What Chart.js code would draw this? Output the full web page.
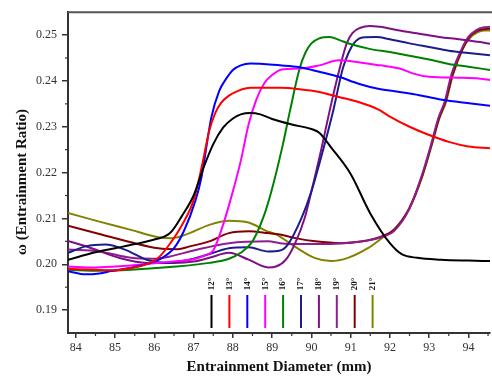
<!DOCTYPE html>
<html>
<head>
<meta charset="utf-8">
<script src="https://cdn.jsdelivr.net/npm/chart.js@4.4.1/dist/chart.umd.min.js"></script>
<style>
  html, body { margin: 0; padding: 0; background: #fff; }
  #wrap { width: 492px; height: 376px; }
</style>
</head>
<body>
<div id="wrap"><canvas id="c" width="492" height="376"></canvas></div>
<script>
// ── Daten: [Durchmesser mm, ω] je Winkel ──
const X_TICKS = [84, 85, 86, 87, 88, 89, 90, 91, 92, 93, 94];
const Y_TICKS = [0.19, 0.20, 0.21, 0.22, 0.23, 0.24, 0.25];
const LABELS = ["12°", "13°", "14°", "15°", "16°", "17°", "18°", "19°", "20°", "21°"];

const deg12 = [[83.8,0.2010],[84.5,0.2026],[85.0,0.2035],[85.5,0.2044],[86.0,0.2054],[86.4,0.2068],[86.7,0.2105],[87.0,0.2150],[87.25,0.2210],[87.5,0.2262],[87.75,0.2298],[88.0,0.2318],[88.2,0.2327],[88.45,0.2330],[88.7,0.2327],[89.0,0.2317],[89.5,0.2305],[90.0,0.2295],[90.2,0.2287],[90.5,0.2255],[91.0,0.2197],[91.5,0.2111],[92.0,0.2046],[92.3,0.2022],[92.7,0.2014],[93.3,0.2010],[94.0,0.2008],[94.55,0.2007]];
const deg13 = [[83.8,0.1990],[84.5,0.1988],[85.0,0.1987],[85.4,0.1992],[85.7,0.1997],[86.1,0.2014],[86.4,0.2045],[86.7,0.2085],[87.0,0.2140],[87.2,0.2210],[87.4,0.2292],[87.55,0.2330],[87.7,0.2352],[87.9,0.2368],[88.15,0.2379],[88.45,0.2385],[89.2,0.2385],[89.7,0.2382],[90.2,0.2376],[90.7,0.2365],[91.2,0.2354],[91.7,0.2338],[92.0,0.2322],[92.5,0.2300],[93.0,0.2282],[93.5,0.2267],[94.0,0.2257],[94.55,0.2253]];
const deg14 = [[83.8,0.1985],[84.25,0.1978],[84.6,0.1980],[84.9,0.1985],[85.6,0.1996],[86.2,0.2014],[86.5,0.2035],[86.75,0.2072],[87.05,0.2140],[87.2,0.2190],[87.45,0.2320],[87.65,0.2378],[87.83,0.2405],[88.0,0.2424],[88.2,0.2434],[88.45,0.2438],[89.2,0.2434],[89.7,0.2430],[90.2,0.2420],[90.7,0.2409],[91.2,0.2394],[91.7,0.2383],[92.25,0.2376],[92.75,0.2369],[93.25,0.2360],[93.75,0.2354],[94.55,0.2346]];
const deg15 = [[83.8,0.1995],[84.5,0.1993],[85.2,0.1996],[86.0,0.2002],[86.6,0.2007],[87.0,0.2011],[87.3,0.2020],[87.5,0.2030],[87.75,0.2086],[88.0,0.2159],[88.2,0.2225],[88.4,0.2305],[88.6,0.2360],[88.8,0.2395],[89.0,0.2413],[89.25,0.2425],[89.7,0.2427],[90.2,0.2434],[90.7,0.2445],[91.2,0.2441],[91.75,0.2434],[92.25,0.2427],[92.6,0.2416],[93.0,0.2409],[93.75,0.2407],[94.3,0.2405],[94.55,0.2402]];
const deg16 = [[83.8,0.1988],[84.6,0.1986],[85.4,0.1988],[86.4,0.1994],[87.4,0.2003],[87.9,0.2012],[88.2,0.2025],[88.5,0.2050],[88.77,0.2101],[88.98,0.2159],[89.27,0.2260],[89.45,0.2333],[89.7,0.2427],[89.85,0.2462],[90.0,0.2482],[90.2,0.2493],[90.46,0.2496],[90.72,0.2489],[90.97,0.2481],[91.48,0.2470],[92.0,0.2463],[92.5,0.2455],[93.0,0.2447],[93.5,0.2437],[94.0,0.2431],[94.55,0.2424]];
const deg17 = [[83.8,0.2025],[84.25,0.2039],[84.75,0.2043],[85.25,0.2032],[85.8,0.2010],[86.3,0.2003],[87.0,0.2012],[87.5,0.2025],[87.9,0.2035],[88.4,0.2037],[88.9,0.2028],[89.2,0.2030],[89.4,0.2043],[89.75,0.2101],[90.0,0.2159],[90.3,0.2250],[90.55,0.2333],[90.8,0.2427],[90.95,0.2462],[91.1,0.2484],[91.3,0.2495],[91.65,0.2496],[92.0,0.2491],[92.5,0.2482],[93.0,0.2474],[93.5,0.2466],[94.0,0.2461],[94.55,0.2456]];
const deg18 = [[83.8,0.2051],[84.4,0.2035],[85.1,0.2014],[85.8,0.2003],[86.5,0.2003],[87.0,0.2006],[87.4,0.2014],[87.9,0.2025],[88.4,0.2010],[88.9,0.1993],[89.1,0.1995],[89.35,0.2010],[89.57,0.2043],[89.83,0.2101],[90.0,0.2159],[90.25,0.2250],[90.46,0.2333],[90.72,0.2427],[90.9,0.2482],[91.05,0.2505],[91.25,0.2516],[91.48,0.2520],[91.74,0.2518],[92.25,0.2510],[92.75,0.2503],[93.25,0.2496],[93.75,0.2491],[94.3,0.2485],[94.55,0.2481]];
const deg19 = [[83.8,0.2032],[84.6,0.2028],[85.4,0.2014],[86.0,0.2012],[86.4,0.2017],[87.0,0.2030],[87.9,0.2046],[88.9,0.2050],[89.2,0.2046],[89.6,0.2044],[90.2,0.2044],[90.8,0.2046],[91.4,0.2051],[91.85,0.2061],[92.1,0.2072],[92.48,0.2118],[92.81,0.2193],[93.06,0.2265],[93.23,0.2318],[93.4,0.2356],[93.56,0.2412],[93.83,0.2470],[94.0,0.2496],[94.2,0.2511],[94.4,0.2517],[94.55,0.2518]];
const deg20 = [[83.8,0.2084],[84.6,0.2066],[85.4,0.2048],[86.1,0.2035],[86.6,0.2033],[86.9,0.2039],[87.4,0.2050],[87.9,0.2068],[88.4,0.2072],[88.9,0.2068],[89.2,0.2065],[89.6,0.2057],[90.1,0.2050],[90.75,0.2046],[91.3,0.2050],[91.8,0.2061],[92.1,0.2075],[92.49,0.2122],[92.83,0.2195],[93.08,0.2267],[93.25,0.2318],[93.42,0.2356],[93.59,0.2412],[93.85,0.2470],[94.02,0.2495],[94.22,0.2509],[94.4,0.2513],[94.55,0.2514]];
const deg21 = [[83.8,0.2112],[84.6,0.2093],[85.4,0.2075],[86.1,0.2059],[86.45,0.2057],[86.9,0.2068],[87.4,0.2086],[87.9,0.2095],[88.4,0.2091],[88.85,0.2073],[89.1,0.2065],[89.57,0.2039],[90.08,0.2014],[90.5,0.2007],[90.93,0.2014],[91.44,0.2035],[91.86,0.2061],[92.12,0.2077],[92.5,0.2122],[92.84,0.2195],[93.09,0.2267],[93.26,0.2318],[93.43,0.2354],[93.6,0.2412],[93.86,0.2470],[94.03,0.2493],[94.23,0.2506],[94.4,0.2510],[94.55,0.2510]];

const SERIES = [deg12, deg13, deg14, deg15, deg16, deg17, deg18, deg19, deg20, deg21];
const COLORS = ["#000000", "#ff0000", "#0000ff", "#ff00ff", "#008000", "#1c1c8c", "#7f0f85", "#8e1d92", "#820000", "#828200"];

const SERIF = "'Liberation Serif', 'DejaVu Serif', serif";
const AXIS = "#333";

// Nebenstriche, Rahmen oben, y-Titel, Legende als senkrechte Striche
const extras = {
  id: "extras",
  afterDraw(chart) {
    const { ctx, chartArea: a, scales } = chart;
    ctx.save();
    ctx.strokeStyle = AXIS;
    ctx.lineWidth = 1.2;
    for (let v = 84.5; v < 94.6; v += 1) {
      const px = scales.x.getPixelForValue(v);
      ctx.beginPath(); ctx.moveTo(px, a.bottom); ctx.lineTo(px, a.bottom + 3); ctx.stroke();
    }
    for (let v = 0.195; v < 0.255; v += 0.01) {
      const py = scales.y.getPixelForValue(v);
      ctx.beginPath(); ctx.moveTo(a.left - 3, py); ctx.lineTo(a.left, py); ctx.stroke();
    }
    // oberer Rahmen
    ctx.strokeStyle = "#555";
    ctx.lineWidth = 2;
    ctx.beginPath(); ctx.moveTo(a.left, a.top); ctx.lineTo(chart.width, a.top); ctx.stroke();

    // y-Titel (leicht unter der Mitte, wie im Original)
    ctx.save();
    ctx.translate(22.5, 182);
    ctx.rotate(-Math.PI / 2);
    ctx.fillStyle = "#111";
    ctx.font = "bold 15px " + SERIF;
    ctx.textAlign = "center";
    ctx.textBaseline = "middle";
    ctx.fillText("ω (Entrainment Ratio)", 0, 0);
    ctx.restore();

    // Legende
    const x0 = a.left + 143.5, gap = 17.9, yTop = 295, yBot = 328;
    chart.data.datasets.forEach((ds, i) => {
      const x = x0 + i * gap;
      ctx.strokeStyle = ds.borderColor;
      ctx.lineWidth = 2;
      ctx.beginPath(); ctx.moveTo(x, yTop); ctx.lineTo(x, yBot); ctx.stroke();
      ctx.save();
      ctx.translate(x, 284);
      ctx.rotate(-Math.PI / 2);
      ctx.fillStyle = "#111";
      ctx.font = "bold 9px " + SERIF;
      ctx.textAlign = "center";
      ctx.textBaseline = "middle";
      ctx.fillText(ds.label, 0, 0);
      ctx.restore();
    });
    ctx.restore();
  },
};

new Chart(document.getElementById("c"), {
  type: "line",
  data: {
    datasets: SERIES.map((s, i) => ({
      label: LABELS[i],
      data: s.map(([x, y]) => ({ x, y })),
      borderColor: COLORS[i],
      backgroundColor: COLORS[i],
      borderWidth: 2,
      pointRadius: 0,
      fill: false,
      cubicInterpolationMode: "monotone",
    })),
  },
  options: {
    responsive: false,
    animation: false,
    devicePixelRatio: 1,
    layout: { padding: { top: 10, right: 2, bottom: 0, left: 0 } },
    plugins: { legend: { display: false }, tooltip: { enabled: false } },
    scales: {
      x: {
        type: "linear",
        min: 83.8,
        max: 94.55,
        afterBuildTicks: (s) => { s.ticks = X_TICKS.map((v) => ({ value: v })); },
        afterFit: (s) => { s.height = 43; },
        ticks: { color: AXIS, font: { family: SERIF, size: 12 }, padding: 3, maxRotation: 0, autoSkip: false, callback: (v) => String(v) },
        grid: { drawOnChartArea: false, drawTicks: true, tickLength: 5, color: AXIS, lineWidth: 1.5 },
        border: { color: AXIS, width: 2 },
        title: { display: true, text: "Entrainment Diameter (mm)", color: "#111", font: { family: SERIF, size: 15, weight: "bold" }, padding: { top: 0, bottom: 0 } },
      },
      y: {
        type: "linear",
        min: 0.185,
        max: 0.255,
        afterBuildTicks: (s) => { s.ticks = Y_TICKS.map((v) => ({ value: v })); },
        afterFit: (s) => { s.width = 68; },
        ticks: { color: AXIS, font: { family: SERIF, size: 12 }, padding: 5, autoSkip: false, callback: (v) => v.toFixed(2) },
        grid: { drawOnChartArea: false, drawTicks: true, tickLength: 6, color: AXIS, lineWidth: 1.5 },
        border: { color: AXIS, width: 2 },
      },
    },
  },
  plugins: [extras],
});
</script>
</body>
</html>
